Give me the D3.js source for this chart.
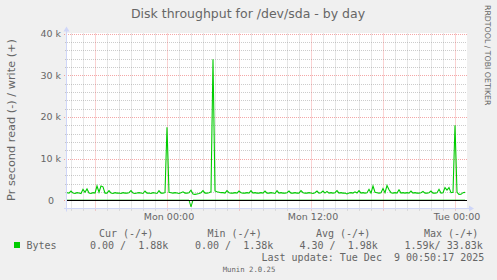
<!DOCTYPE html>
<html>
<head>
<meta charset="utf-8">
<script src="https://cdn.jsdelivr.net/npm/d3@7"></script>
<style>
  html, body { margin: 0; padding: 0; background: #f0f0f0; }
  svg { display: block; }
  text { font-family: "DejaVu Sans", sans-serif; fill: #666; }
  .mono { font-family: "DejaVu Sans Mono", monospace; white-space: pre; }
</style>
</head>
<body>
<svg id="chart" width="497" height="280"></svg>
<script>
const title = "Disk throughput for /dev/sda - by day";
const yLabel = "Pr second read (-) / write (+)";
const watermark = "RRDTOOL / TOBI OETIKER";
const footer = "Munin 2.0.25";

const startTime = "2025-12-07T15:40:00";
const endTime = "2025-12-09T01:00:00";
const stepSeconds = 600;

// write (+), k bytes per second, one value per 10 minutes
const writeK = [
  1.8, 1.7, 2.2, 1.7, 1.6, 1.8, 1.7, 1.6, 2.6, 1.9,
  2.7, 1.7, 1.6, 1.8, 1.7, 3.4, 1.9, 3.4, 3.2, 1.7,
  1.7, 2.3, 1.7, 1.6, 1.8, 1.7, 1.7, 1.6, 1.8, 1.7,
  1.7, 1.8, 2.3, 1.7, 1.6, 1.7, 1.8, 1.7, 1.6, 2.2,
  1.7, 1.7, 1.6, 1.8, 1.7, 1.6, 2.3, 1.7, 1.7, 1.8,
  17.5, 1.9, 1.8, 1.7, 1.8, 1.7, 1.6, 1.8, 2.0, 1.7,
  1.7, 1.8, 2.4, 1.5, 1.4, 1.5, 1.6, 1.8, 2.3, 1.7,
  1.7, 1.8, 2.0, 33.83, 2.2, 2.0, 1.9, 1.8, 1.8, 1.7,
  2.3, 1.8, 1.7, 1.7, 1.8, 1.7, 2.2, 1.8, 1.7, 1.7,
  1.8, 1.7, 2.3, 1.7, 1.8, 1.7, 1.7, 1.8, 1.7, 2.2,
  1.7, 1.7, 1.8, 1.7, 1.6, 2.3, 1.7, 1.8, 1.7, 1.7,
  1.8, 2.2, 1.7, 1.7, 1.8, 1.7, 1.7, 2.3, 1.8, 1.7,
  1.7, 1.8, 1.7, 1.6, 1.8, 2.2, 1.7, 1.8, 2.2, 1.7,
  2.1, 1.7, 1.8, 1.7, 1.8, 2.3, 1.7, 1.8, 1.7, 1.7,
  1.5, 1.7, 1.8, 1.7, 2.0, 1.7, 2.3, 1.7, 1.8, 1.7,
  1.8, 2.6, 1.7, 3.4, 1.9, 1.8, 1.7, 1.8, 2.8, 1.8,
  3.5, 2.5, 1.8, 1.7, 1.8, 1.7, 2.5, 1.7, 1.8, 1.7,
  1.8, 1.7, 2.2, 1.7, 1.8, 1.7, 1.7, 1.8, 2.1, 1.7,
  1.7, 1.8, 2.2, 1.7, 1.7, 1.8, 2.6, 1.7, 1.8, 3.0,
  2.4, 3.0, 1.8, 1.9, 18.0, 1.9, 1.38, 1.4, 1.8, 1.88
];

// read (-), drawn below zero
const readK = [
  0, 0, 0, 0, 0, 0, 0, 0, 0, 0, 0, 0, 0, 0, 0, 0, 0, 0, 0, 0,
  0, 0, 0, 0, 0, 0, 0, 0, 0, 0, 0, 0, 0, 0, 0, 0, 0, 0, 0, 0,
  0, 0, 0, 0, 0, 0, 0, 0, 0, 0, 0, 0, 0, 0, 0, 0, 0, 0, 0, 0,
  0, 0, -1.59, 0, 0, 0, 0, 0, 0, 0, 0, 0, 0, 0, 0, 0, 0, 0, 0, 0,
  0, 0, 0, 0, 0, 0, 0, 0, 0, 0, 0, 0, 0, 0, 0, 0, 0, 0, 0, 0,
  0, 0, 0, 0, 0, 0, 0, 0, 0, 0, 0, 0, 0, 0, 0, 0, 0, 0, 0, 0,
  0, 0, 0, 0, 0, 0, 0, 0, 0, 0, 0, 0, 0, 0, 0, 0, 0, 0, 0, 0,
  0, 0, 0, 0, 0, 0, 0, 0, 0, 0, 0, 0, 0, 0, 0, 0, 0, 0, 0, 0,
  0, 0, 0, 0, 0, 0, 0, 0, 0, 0, 0, 0, 0, 0, 0, 0, 0, 0, 0, 0,
  0, 0, 0, 0, 0, 0, 0, 0, 0, 0, 0, 0, 0, 0, 0, 0, 0, 0, 0, 0
];

const yTicks = [0, 10, 20, 30, 40];
const xTicks = ["2025-12-08T00:00:00", "2025-12-08T12:00:00", "2025-12-09T00:00:00"];

const seriesName = "Bytes";
const legendHeaders = ["Cur (-/+)", "Min (-/+)", "Avg (-/+)", "Max (-/+)"];
const legendValues = ["0.00 /  1.88k", "0.00 /  1.38k", "4.30 /  1.98k", "1.59k/ 33.83k"];
const lastUpdate = "Last update: Tue Dec  9 00:50:17 2025";

const green = "#00cc00";
const axisColor = "#cfd6f8";

const plotLeft = 67, plotRight = 467, plotTop = 33.5, plotBottom = 208.5;

const parse = d3.utcParse("%Y-%m-%dT%H:%M:%S");
const t0 = parse(startTime);
const t1 = parse(endTime);

const x = d3.scaleUtc().domain([t0, t1]).range([plotLeft, plotRight]);
const y = d3.scaleLinear().domain([-2, 40]).range([plotBottom, plotTop]);

const timeAt = i => new Date(t0.getTime() + i * stepSeconds * 1000);

const svg = d3.select("#chart");

svg.append("rect")
  .attr("width", 497).attr("height", 280)
  .attr("fill", "#f0f0f0");

svg.append("rect")
  .attr("x", plotLeft).attr("y", plotTop - 0.5)
  .attr("width", plotRight - plotLeft).attr("height", plotBottom - plotTop + 0.5)
  .attr("fill", "#fff");

const px = v => Math.round(v) + 0.5;

// minor grid
const grid = svg.append("g").attr("stroke-dasharray", "1,1").attr("stroke-width", 1);

const hours = d3.utcHour.range(t0, t1).filter(d => d.getUTCHours() % 6 !== 0);
grid.selectAll("line.vmin")
  .data(hours)
  .enter().append("line")
  .attr("x1", d => px(x(d))).attr("x2", d => px(x(d)))
  .attr("y1", plotTop).attr("y2", plotBottom + 2)
  .attr("stroke", "rgba(143,143,143,0.45)");

const minorY = d3.range(2, 41, 2).filter(d => d % 10 !== 0);
grid.selectAll("line.hmin")
  .data(minorY)
  .enter().append("line")
  .attr("x1", plotLeft - 2).attr("x2", plotRight)
  .attr("y1", d => px(y(d))).attr("y2", d => px(y(d)))
  .attr("stroke", "rgba(143,143,143,0.45)");

// major grid
const sixHours = d3.utcHour.every(6).range(t0, t1);
grid.selectAll("line.vmaj")
  .data(sixHours)
  .enter().append("line")
  .attr("x1", d => px(x(d))).attr("x2", d => px(x(d)))
  .attr("y1", plotTop).attr("y2", plotBottom + 3)
  .attr("stroke", "rgba(230,60,60,0.45)");

grid.selectAll("line.hmaj")
  .data(yTicks)
  .enter().append("line")
  .attr("x1", plotLeft - 3).attr("x2", plotRight)
  .attr("y1", d => px(y(d))).attr("y2", d => px(y(d)))
  .attr("stroke", "rgba(230,60,60,0.45)");

// series
const line = d3.line()
  .x((d, i) => x(timeAt(i)))
  .y(d => y(d));

svg.append("path")
  .datum(readK)
  .attr("d", line)
  .attr("fill", "none")
  .attr("stroke", green)
  .attr("stroke-width", 1);

svg.append("path")
  .datum(writeK)
  .attr("d", line)
  .attr("fill", "none")
  .attr("stroke", green)
  .attr("stroke-width", 1.1);

// zero rule
svg.append("line")
  .attr("x1", plotLeft).attr("x2", plotRight)
  .attr("y1", px(y(0))).attr("y2", px(y(0)))
  .attr("stroke", "#000").attr("stroke-width", 1);

// axes
svg.append("line")
  .attr("x1", plotLeft - 0.5).attr("x2", plotLeft - 0.5)
  .attr("y1", plotBottom + 3).attr("y2", plotTop - 5)
  .attr("stroke", axisColor);
svg.append("path")
  .attr("d", `M${plotLeft - 3.5},${plotTop - 2} L${plotLeft - 0.5},${plotTop - 7} L${plotLeft + 2.5},${plotTop - 2} Z`)
  .attr("fill", axisColor);

svg.append("line")
  .attr("x1", plotLeft - 3).attr("x2", plotRight + 5)
  .attr("y1", plotBottom).attr("y2", plotBottom)
  .attr("stroke", axisColor);
svg.append("path")
  .attr("d", `M${plotRight + 2},${plotBottom - 3} L${plotRight + 7},${plotBottom} L${plotRight + 2},${plotBottom + 3} Z`)
  .attr("fill", axisColor);

// tick labels
const yAxis = svg.append("g")
  .attr("transform", `translate(${plotLeft},0)`)
  .call(d3.axisLeft(y)
    .tickValues(yTicks)
    .tickSize(0)
    .tickPadding(6)
    .tickFormat(d => d === 0 ? "0" : d + " k"));
yAxis.select(".domain").remove();
yAxis.selectAll("text")
  .attr("font-family", null)
  .style("font-size", "9.5px")
  .attr("fill", "#555")
  .attr("dx", d => d === 0 ? -7 : 0);

const xAxis = svg.append("g")
  .attr("transform", `translate(0,${plotBottom})`)
  .call(d3.axisBottom(x)
    .tickValues(xTicks.map(parse))
    .tickSize(0)
    .tickFormat(d3.utcFormat("%a %H:%M")));
xAxis.select(".domain").remove();
xAxis.selectAll("text")
  .attr("font-family", null)
  .style("font-size", "9.5px")
  .attr("fill", "#555")
  .attr("y", 11.5)
  .attr("dy", 0)
  .attr("dx", 1.5);

// titles
svg.append("text")
  .attr("x", 248).attr("y", 18)
  .attr("text-anchor", "middle")
  .style("font-size", "12.5px")
  .text(title);

svg.append("text")
  .attr("transform", "translate(15,120) rotate(-90)")
  .attr("text-anchor", "middle")
  .style("font-size", "11.3px")
  .text(yLabel);

svg.append("text")
  .attr("transform", "translate(485,5) rotate(90)")
  .style("font-size", "7.8px")
  .attr("fill", "#c8c8c8")
  .text(watermark);

// legend
const headerX = [99, 207.5, 316, 424];
const valueX = [90, 195, 299.5, 404.5];

svg.selectAll("text.hdr")
  .data(legendHeaders)
  .enter().append("text")
  .attr("class", "mono")
  .attr("x", (d, i) => headerX[i]).attr("y", 236.5)
  .style("font-size", "10px")
  .attr("fill", "#555")
  .text(d => d);

svg.append("rect")
  .attr("x", 14).attr("y", 242)
  .attr("width", 6).attr("height", 6)
  .attr("fill", green);

svg.append("text")
  .attr("class", "mono")
  .attr("x", 26.5).attr("y", 249)
  .style("font-size", "10px")
  .attr("fill", "#555")
  .text(seriesName);

svg.selectAll("text.val")
  .data(legendValues)
  .enter().append("text")
  .attr("class", "mono")
  .attr("x", (d, i) => valueX[i]).attr("y", 249)
  .style("font-size", "10px")
  .attr("fill", "#555")
  .text(d => d);

svg.append("text")
  .attr("class", "mono")
  .attr("x", 261.5).attr("y", 261)
  .style("font-size", "10px")
  .attr("fill", "#555")
  .text(lastUpdate);

svg.append("text")
  .attr("class", "mono")
  .attr("x", 249).attr("y", 272)
  .attr("text-anchor", "middle")
  .style("font-size", "7.3px")
  .attr("fill", "#c0c0c0")
  .text(footer);
</script>
</body>
</html>
